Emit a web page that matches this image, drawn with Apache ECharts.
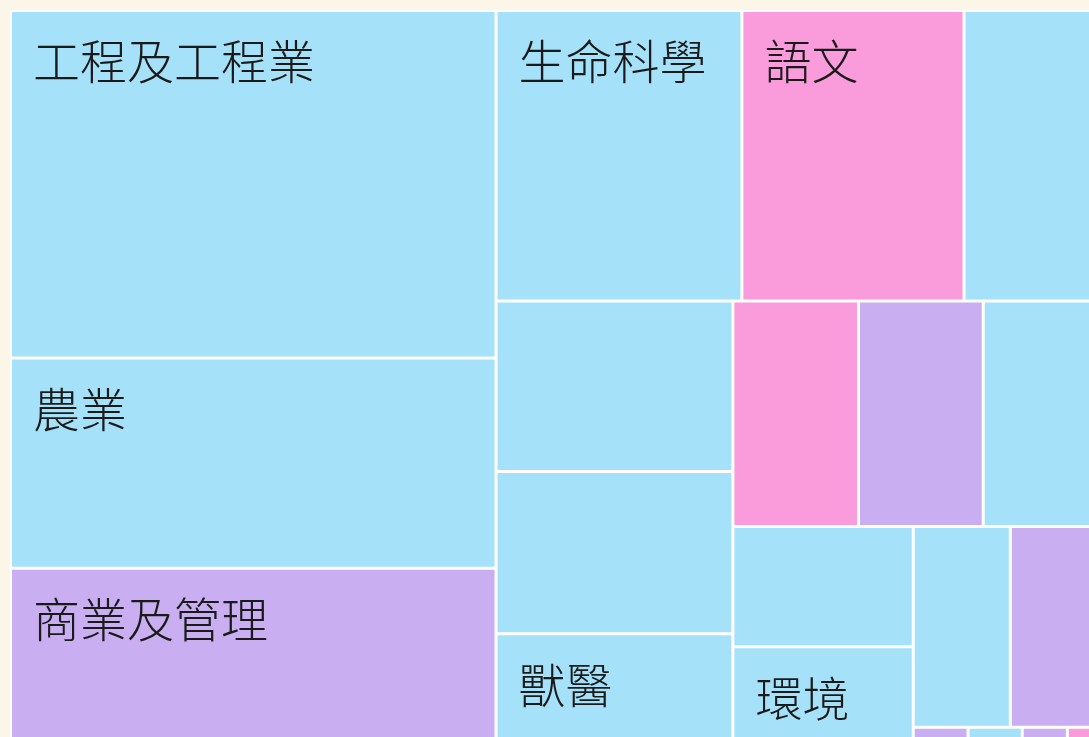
<!DOCTYPE html>
<html>
<head>
<meta charset="utf-8">
<script src="https://cdn.jsdelivr.net/npm/echarts@6/dist/echarts.min.js"></script>
<style>
  html, body { margin: 0; padding: 0; background: #fbf6e7; overflow: hidden; }
  #main { width: 1089px; height: 737px; }
</style>
</head>
<body>
<div id="main"></div>
<script>
// subject areas, largest first
var subjects = ['工程及工程業', '農業', '商業及管理', '生命科學', '語文', '醫科',
  '物理科學', '資訊科技', '獸醫', '藝術', '社會科學', '數學',
  '建築', '環境', '護理', '法律', '教育', '化學', '傳播', '設計'];
var counts = [1686, 1021, 933, 714, 645, 405,
  404, 384, 300, 283, 281, 271,
  217, 205, 195, 187, 18.2, 18, 15, 12];
// sci / arts / biz
var groups = ['sci', 'sci', 'biz', 'sci', 'arts', 'sci',
  'sci', 'sci', 'sci', 'arts', 'biz', 'sci',
  'sci', 'sci', 'sci', 'biz', 'biz', 'sci', 'biz', 'arts'];
// only these names show a label in the picture
var labelled = ['工程及工程業', '農業', '商業及管理', '生命科學', '語文', '獸醫', '環境'];

var groupColors = { sci: '#a6e1fa', arts: '#fa9bdb', biz: '#c9aff2' };

var data = subjects.map(function (name, i) {
  return {
    name: name,
    value: counts[i],
    itemStyle: { color: groupColors[groups[i]] },
    label: { show: labelled.indexOf(name) > -1 }
  };
});

var chart = echarts.init(document.getElementById('main'));
chart.setOption({
  backgroundColor: '#fbf6e7',
  series: [{
    type: 'treemap',
    left: 10,
    top: 10,
    width: 1094,
    height: 751,
    roam: false,
    nodeClick: false,
    breadcrumb: { show: false },
    itemStyle: {
      borderColor: '#fff',
      borderWidth: 1,
      gapWidth: 1
    },
    label: {
      show: true,
      position: [16, 21],
      fontSize: 47,
      fontWeight: 300,
      color: '#1a1a1a',
      fontFamily: 'Noto Sans CJK TC'
    },
    data: data
  }]
});
</script>
</body>
</html>
